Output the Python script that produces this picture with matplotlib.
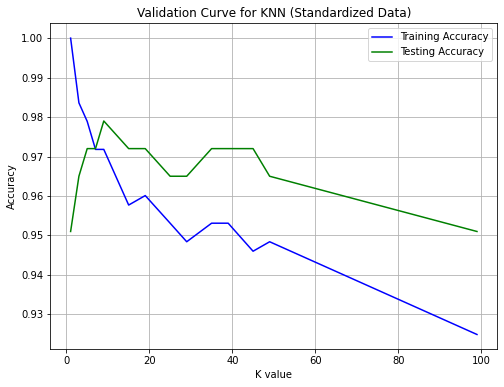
import matplotlib
matplotlib.use('Agg')
import matplotlib.pyplot as plt

k_values = [1, 3, 5, 7, 9, 15, 19, 25, 29, 35, 39, 45, 49, 99]
train_acc = [1.0, 0.9836, 0.9789, 0.9718, 0.9718, 0.9577, 0.9601, 0.9531,
             0.9484, 0.9531, 0.9531, 0.9460, 0.9484, 0.9249]
test_acc = [0.9510, 0.9650, 0.9720, 0.9720, 0.9790, 0.9720, 0.9720, 0.9650,
            0.9650, 0.9720, 0.9720, 0.9720, 0.9650, 0.9510]

fig = plt.figure(figsize=(7, 5.375), dpi=72)
ax = fig.add_axes([0.0998, 0.0974, 0.9867 - 0.0998, 0.9398 - 0.0974])
ax.plot(k_values, train_acc, color='blue', label='Training Accuracy')
ax.plot(k_values, test_acc, color='green', label='Testing Accuracy')
ax.set_title('Validation Curve for KNN (Standardized Data)')
ax.set_xlabel('K value')
ax.set_ylabel('Accuracy')
ax.legend(loc='upper right')
ax.grid(True)

fig.savefig('out.png', dpi=72)
